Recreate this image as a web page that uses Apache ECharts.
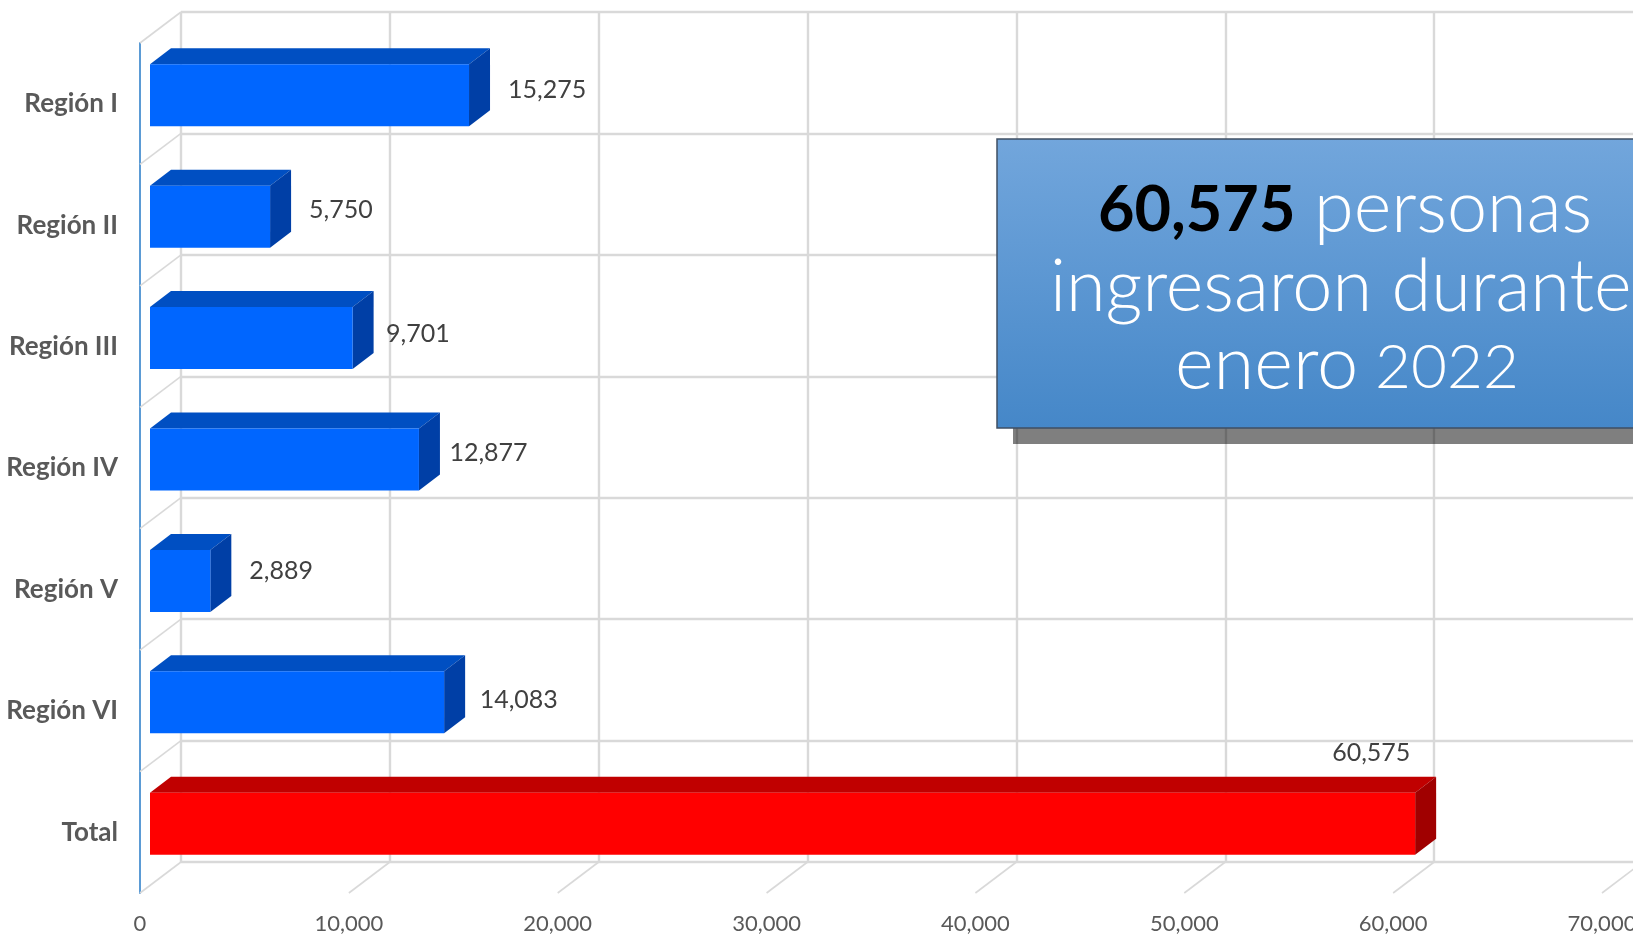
<!DOCTYPE html>
<html>
<head>
<meta charset="utf-8">
<style>html,body{margin:0;padding:0;background:#fff;overflow:hidden}#c{width:1633px;height:934px}</style>
<script src="https://cdn.jsdelivr.net/npm/echarts@6/dist/echarts.min.js"></script>
</head>
<body>
<div id="c"></div>
<script>
const categories = ['Región I','Región II','Región III','Región IV','Región V','Región VI','Total'];
const personas = [15275,5750,9701,12877,2889,14083,60575];
const xTicks = [0,10000,20000,30000,40000,50000,60000,70000];

const labelNudge = [[18,-5],[18,-7],[12.5,-4.5],[9.5,-7],[18,-10],[14.5,-2.5],[-104,-71]];
const chart = echarts.init(document.getElementById('c'), null, {renderer:'canvas'});
const GRID = '#d9d9d9';

function cube(params, api) {
  const i = api.value(0), v = api.value(1);
  const a = api.coord([0, i]), b = api.coord([v, i]);
  const x0 = a[0] + 10, x1 = b[0] + 10, yc = a[1] - 8.5, t = yc - 31, u = yc + 31;
  const dx = 21, dy = -16;
  const total = i === categories.length - 1;
  const front = total ? '#ff0000' : '#0066ff';
  const top = total ? '#c00000' : '#004fc2';
  const side = total ? '#a00000' : '#003fa6';
  const n = labelNudge[i];
  return {type:'group', children:[
    {type:'polygon', shape:{points:[[x0,t],[x0+dx,t+dy],[x1+dx,t+dy],[x1,t]]}, style:{fill:top}},
    {type:'polygon', shape:{points:[[x1,t],[x1+dx,t+dy],[x1+dx,u+dy],[x1,u]]}, style:{fill:side}},
    {type:'rect', shape:{x:x0,y:t,width:x1-x0,height:u-t}, style:{fill:front}},
    {type:'text', style:{x:x1+dx+n[0], y:yc+n[1], text:v.toLocaleString('en-US'),
      fill:'#404040', font:'25px Lato', textAlign:'left', textVerticalAlign:'middle'}}
  ]};
}
function floorLine(params, api) {
  const c = api.coord([api.value(0), categories.length - 1]);
  const h = api.size([0, 1])[1] / 2;
  return {type:'line', shape:{x1:c[0], y1:c[1]+h, x2:c[0]-41, y2:c[1]+h+31}, style:{stroke:GRID, lineWidth:1.6}};
}
function wallLine(params, api) {
  const c = api.coord([0, api.value(0)]);
  const h = api.size([0, 1])[1] / 2;
  return {type:'line', shape:{x1:c[0], y1:c[1]-h, x2:c[0]-41, y2:c[1]-h+31}, style:{stroke:GRID, lineWidth:1.6}};
}
function headlineText(text, x, baseline, size, weight, fill) {
  return {type:'text', z:12, style:{x:x, y:baseline - size * 0.3, textAlign:'left', textVerticalAlign:'middle',
    text:text, font:weight + ' ' + size + 'px Lato', fill:fill}};
}

chart.setOption({
  animation:false,
  backgroundColor:'#fff',
  grid:[
    {left:140, top:43, width:1462, height:850, outerBoundsMode:'none'},
    {left:181, top:12, width:1462, height:850, outerBoundsMode:'none'}
  ],
  xAxis:[
    {gridIndex:0, type:'value', min:0, max:70000, interval:10000,
     axisLine:{show:false}, axisTick:{show:false}, splitLine:{show:false},
     axisLabel:{margin:20, color:'#595959', fontFamily:'Lato', fontSize:22, showMinLabel:true, showMaxLabel:true,
       formatter:v=>v.toLocaleString('en-US')}},
    {gridIndex:1, type:'value', min:0, max:70000, interval:10000,
     axisLine:{show:false}, axisTick:{show:false}, axisLabel:{show:false},
     splitLine:{show:true, lineStyle:{color:GRID, width:2.4}}}
  ],
  yAxis:[
    {gridIndex:0, type:'category', data:categories, inverse:true,
     axisLine:{show:true, lineStyle:{color:'#5b9bd5', width:2}}, axisTick:{show:false}, splitLine:{show:false},
     axisLabel:{margin:22, color:'#595959', fontFamily:'Lato', fontWeight:'bold', fontSize:26, padding:[9,0,0,0]}},
    {gridIndex:1, type:'category', data:categories, inverse:true,
     axisLine:{show:false}, axisTick:{show:false}, axisLabel:{show:false},
     splitLine:{show:true, interval:0, lineStyle:{color:GRID, width:2.4}}}
  ],
  series:[
    {type:'custom', xAxisIndex:1, yAxisIndex:1, z:1, clip:false, silent:true, renderItem:floorLine,
     data:xTicks.map(t=>[t]), encode:{x:0}},
    {type:'custom', xAxisIndex:1, yAxisIndex:1, z:1, clip:false, silent:true, renderItem:wallLine,
     data:categories.map((c,i)=>[i]), encode:{y:0}},
    {type:'custom', xAxisIndex:0, yAxisIndex:0, z:3, clip:false, renderItem:cube,
     data:personas.map((v,i)=>[i,v]), encode:{y:0, x:1}}
  ],
  graphic:[
    {type:'rect', z:10, shape:{x:1013,y:155,width:700,height:289}, style:{fill:'rgba(0,0,0,0.5)'}},
    {type:'rect', z:11, shape:{x:997,y:139,width:700,height:289},
     style:{stroke:'#3f4f63', lineWidth:1.5,
       fill:new echarts.graphic.LinearGradient(0,0,0,1,[{offset:0,color:'#72a6dc'},{offset:1,color:'#4587c8'}])}},
    headlineText('60,575', 1098, 230, 63, 'bold', '#000000'),
    headlineText('personas', 1314, 230, 72, '300', '#ffffff'),
    headlineText('ingresaron durante', 1050, 309, 72, '300', '#ffffff'),
    headlineText('enero', 1175, 387, 74, '300', '#ffffff'),
    headlineText('2022', 1375, 387, 62, '300', '#ffffff')
  ]
});
</script>
</body>
</html>
